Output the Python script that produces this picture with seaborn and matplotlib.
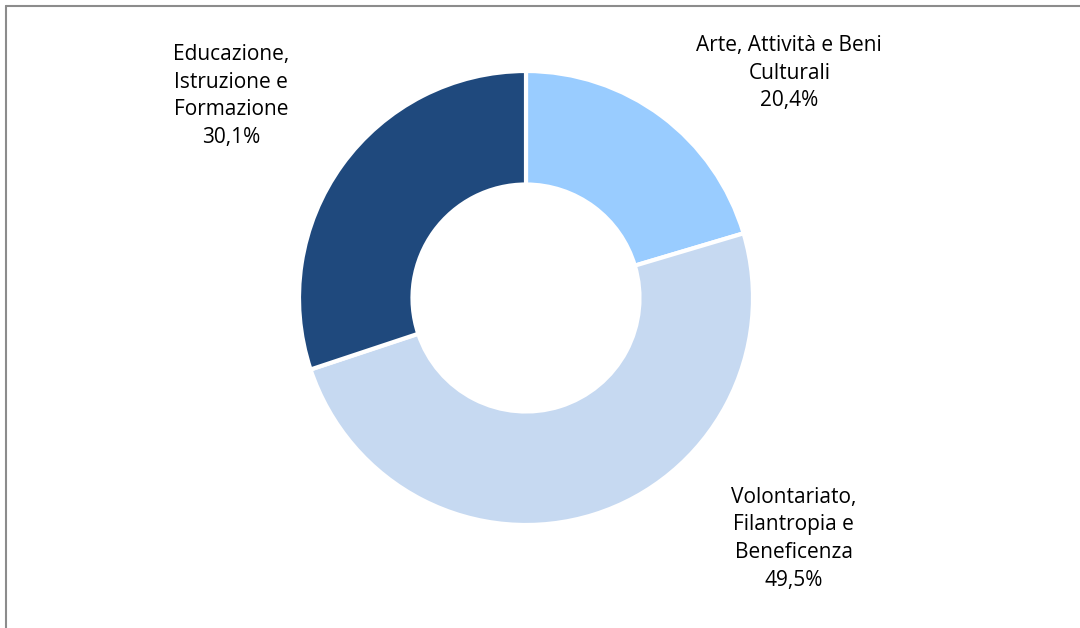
import matplotlib
matplotlib.use('Agg')
import matplotlib.pyplot as plt
import seaborn as sns
from matplotlib.lines import Line2D

# Dati
settori = ['Arte, Attività e Beni\nCulturali',
           'Volontariato,\nFilantropia e\nBeneficenza',
           'Educazione,\nIstruzione e\nFormazione']
quote = [20.4, 49.5, 30.1]
colori = ['#99CCFF', '#C6D9F1', '#1F497D']

sns.set_theme(style='white')
plt.rcParams['font.family'] = ['Open Sans', 'DejaVu Sans']

fig = plt.figure(figsize=(10.8, 6.28), dpi=100)

# Assi quadrati centrati sull'anello
cx, cy, r = 526, 330, 227
ax = fig.add_axes([(cx - r) / 1080, (cy - r) / 628, 2 * r / 1080, 2 * r / 628])
ax.set_aspect('equal')

ax.pie(quote, colors=colori, startangle=90, counterclock=False,
       radius=1, wedgeprops=dict(width=0.5, edgecolor='white', linewidth=3))
ax.set_xlim(-1, 1)
ax.set_ylim(-1, 1)
ax.axis('off')

# Etichette
pos_etichette = [(1.16, 0.99), (1.18, -1.06), (-1.30, 0.89)]
for testo, valore, (x, y) in zip(settori, quote, pos_etichette):
    etichetta = f"{testo}\n{valore:.1f}%".replace('.', ',')
    ax.text(x, y, etichetta, ha='center', va='center', fontsize=15,
            linespacing=1.42, color='#000000', clip_on=False)

# Cornice (solo bordo superiore e sinistro visibili)
fig.add_artist(Line2D([6 / 1080, 1.0], [1 - 5.5 / 628, 1 - 5.5 / 628],
                      transform=fig.transFigure, color='#8c8c8c', linewidth=1.5))
fig.add_artist(Line2D([6 / 1080, 6 / 1080], [0.0, 1 - 5.5 / 628],
                      transform=fig.transFigure, color='#8c8c8c', linewidth=1.5))

fig.savefig('out.png', dpi=100, facecolor='white')
